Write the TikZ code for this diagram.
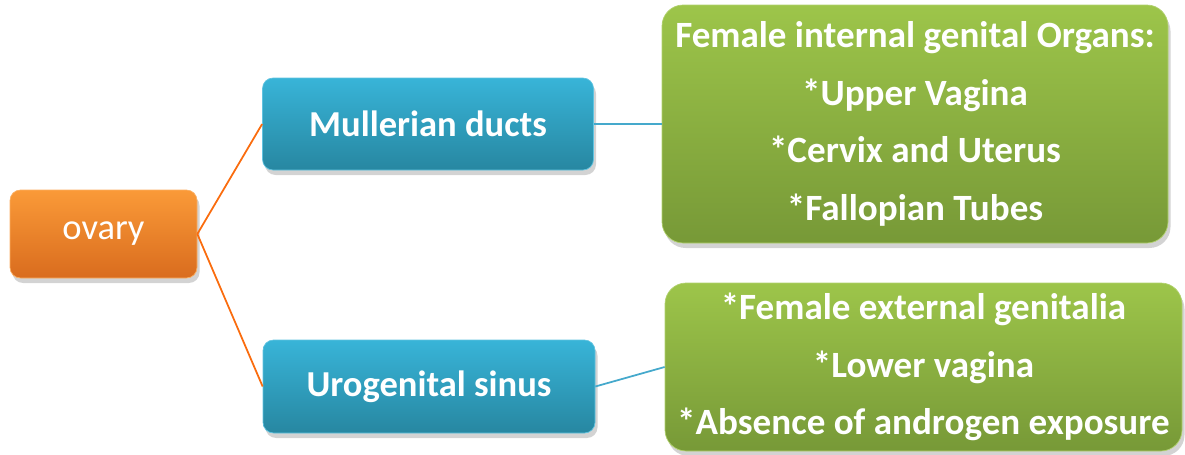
\documentclass[tikz,border=0pt]{standalone}
\usepackage{fontspec}
\setmainfont{Carlito}
\usepackage{tikz}
\usetikzlibrary{shadows,positioning}
\definecolor{ovtop}{HTML}{FA9A38}
\definecolor{ovbot}{HTML}{D96C1E}
\definecolor{dutop}{HTML}{38B4D8}
\definecolor{dubot}{HTML}{2787A1}
\definecolor{ortop}{HTML}{9DC54A}
\definecolor{orbot}{HTML}{779937}
\definecolor{orline}{HTML}{FA6C0E}
\definecolor{duline}{HTML}{45A9CC}

\begin{document}
\begin{tikzpicture}[font=\fontsize{20.8}{32.3}\selectfont,
    ovbox/.style={rounded corners=6pt,top color=ovtop,bottom color=ovbot,draw=ovtop!80!white,
      text=white,drop shadow={opacity=0.35,shadow xshift=0.5mm,shadow yshift=-1mm}},
    ductbox/.style={rounded corners=6pt,top color=dutop,bottom color=dubot,draw=dutop!80!white,
      text=white,font=\fontsize{20.8}{32.3}\selectfont\bfseries,
      drop shadow={opacity=0.35,shadow xshift=0.5mm,shadow yshift=-1mm}},
    organbox/.style={rounded corners=12pt,top color=ortop,bottom color=orbot,draw=ortop!80!white,
      text=white,align=center,font=\fontsize{21.1}{32.8}\selectfont\bfseries,
      drop shadow={opacity=0.35,shadow xshift=0.5mm,shadow yshift=-1mm}}]
    \useasboundingbox (0,0) rectangle (23.7,9.08);
    \node[ovbox,minimum width=3.74cm,minimum height=1.76cm] (ovary) at (2.07,4.40) {ovary};
    \node[ductbox,minimum width=6.62cm,minimum height=1.84cm] (mull) at (8.56,6.60) {Mullerian ducts};
    \node[ductbox,minimum width=6.64cm,minimum height=1.86cm] (uro) at (8.58,1.35) {Urogenital sinus};
    \node[organbox,minimum width=10.12cm,minimum height=4.76cm] (inner) at (18.30,6.60)
      {Female internal genital Organs:\\*Upper Vagina\\*Cervix and Uterus\\*Fallopian Tubes};
    \node[organbox,minimum width=10.34cm,minimum height=3.36cm] (outer) at (18.47,1.74)
      {*Female external genitalia\\*Lower vagina\\*Absence of androgen exposure};
    \draw[orline,line width=1pt](ovary.east)--(mull.west);
    \draw[orline,line width=1pt](ovary.east)--(uro.west);
    \draw[duline,line width=1pt](mull.east)--(inner.west);
    \draw[duline,line width=1pt](uro.east)--(outer.west);
  \end{tikzpicture}
\end{document}
